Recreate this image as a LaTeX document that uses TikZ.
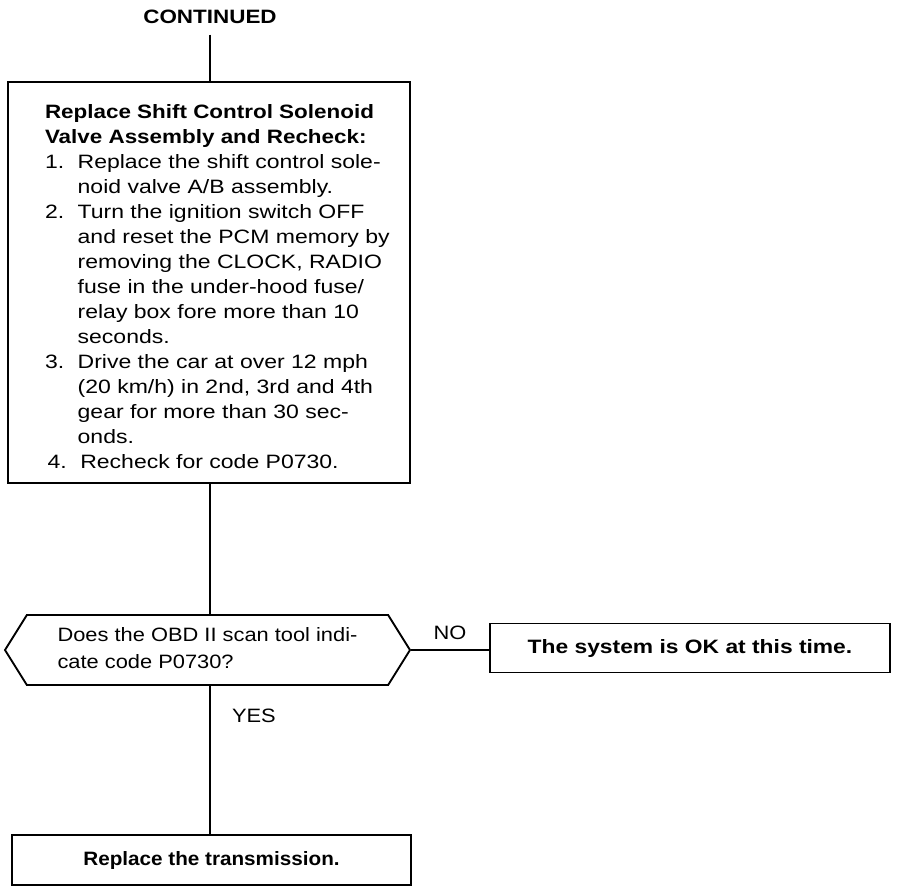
\documentclass[tikz,border=0pt]{standalone}
\usepackage{fontspec}
\setmainfont[FakeStretch=1.19, BoldFeatures={FakeStretch=1.16}]{Liberation Sans}
\usepackage{tikz}
\usetikzlibrary{positioning}
\usetikzlibrary{shapes.symbols}
\tikzset{stepbox/.style={draw, line width=1.4pt, align=left, inner sep=0pt}}
\tikzset{askbox/.style={draw, line width=1.4pt, signal, signal to=west and east, signal pointer angle=116, inner sep=0pt}}
\tikzset{flow/.style={line width=1.4pt}}
\newfontfamily\askfont[FakeStretch=1.13]{Liberation Sans}
\newfontfamily\okfont[FakeStretch=1.18]{Liberation Sans Bold}
\newfontfamily\transfont[FakeStretch=1.07]{Liberation Sans Bold}
\newcommand{\itemnum}[1]{\makebox[24.5pt][l]{#1}}
\newcommand{\itemgap}{\hspace*{24.5pt}}

\begin{document}
\begin{tikzpicture}[x=0.75pt,y=-0.75pt]
\useasboundingbox (0,0) rectangle (912,892);
\fontsize{14.5pt}{18.75pt}\selectfont
\node (cont) at (210,17) {\textbf{CONTINUED}};
\node[stepbox, minimum width=301.5pt, minimum height=300.75pt] (replace) at (209,282.5) {%
\raisebox{-4.5pt}[\height][\depth]{\makebox[246pt][l]{\begin{tabular}{@{}l@{}}
\textbf{Replace Shift Control Solenoid}\\
\textbf{Valve Assembly and Recheck:}\\
\itemnum{1.}Replace the shift control sole-\\
\itemgap noid valve A/B assembly.\\
\itemnum{2.}Turn the ignition switch OFF\\
\itemgap and reset the PCM memory by\\
\itemgap removing the CLOCK, RADIO\\
\itemgap fuse in the under-hood fuse/\\
\itemgap relay box fore more than 10\\
\itemgap seconds.\\
\itemnum{3.}Drive the car at over 12 mph\\
\itemgap (20 km/h) in 2nd, 3rd and 4th\\
\itemgap gear for more than 30 sec-\\
\itemgap onds.\\
\hspace*{2pt}\itemnum{4.}Recheck for code P0730.
\end{tabular}}}};
\node[askbox, minimum width=303.75pt, minimum height=52.5pt, font=\askfont] (obd) at (207.5,650) {%
\begin{tabular}{@{}l@{}}
Does the OBD II scan tool indi-\\[2pt]
cate code P0730?
\end{tabular}};
\node[stepbox, minimum width=300pt, minimum height=36.75pt, font=\okfont] (ok) at (690,648) {The system is OK at this time.};
\node[stepbox, minimum width=299.25pt, minimum height=37.5pt, font=\transfont] (trans) at (211.5,860) {Replace the transmission.};
% connectors
\draw[flow] ([yshift=-3pt]cont.south) -- (cont.south |- replace.north);
\draw[flow] (replace.south -| cont.south) -- (cont.south |- obd.north);
\draw[flow] (obd.east) -- (obd.east -| ok.west) node[midway, above=2pt, font=\askfont] {NO};
\draw[flow] (cont.south |- obd.south) -- (cont.south |- trans.north) node[pos=0.2, right=11pt, font=\askfont] {YES};
\end{tikzpicture}
\end{document}
